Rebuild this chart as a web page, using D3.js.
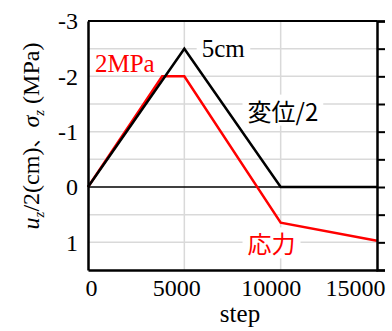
<!DOCTYPE html>
<html>
<head>
<meta charset="utf-8">
<script src="https://cdn.jsdelivr.net/npm/d3@7"></script>
<style>
  body { margin: 0; background: #fff; }
  svg text { font-family: "Liberation Serif", "DejaVu Serif", serif; }
  .jp { font-family: "Noto Sans CJK JP", sans-serif; }
</style>
</head>
<body>
<div id="chart"></div>
<script>
// displacement / 2 (cm)
const dispSteps = [0, 5000, 10000, 15000];
const dispValues = [0, -2.5, 0, 0];
// stress (MPa)
const stressSteps = [0, 3850, 5000, 10000, 15000];
const stressValues = [0, -2, -2, 0.645, 0.97];

const xTicks = [0, 5000, 10000, 15000];
const yTicks = [-3, -2, -1, 0, 1];
const yGrid = [-2.5, -2, -1.5, -1, -0.5, 0.5, 1];

const labels = [
  {text: "5cm", x: 5900, y: -2.35, color: "#000", jp: false},
  {text: "2MPa", x: 360, y: -2.08, color: "#f00", jp: false},
  {text: "変位/2", x: 8280, y: -1.2, color: "#000", jp: true},
  {text: "応力", x: 8280, y: 1.2, color: "#f00", jp: true}
];

const width = 392, height = 331;
const margin = {top: 21, right: 15, bottom: 61, left: 88};

const svg = d3.select("#chart").append("svg")
  .attr("width", width)
  .attr("height", height);

const x = d3.scaleLinear().domain([0, 15000]).range([margin.left, width - margin.right]);
const y = d3.scaleLinear().domain([-3, 1.5]).range([margin.top, height - margin.bottom]);

// grid
svg.append("g")
  .selectAll("line")
  .data(yGrid)
  .enter().append("line")
  .attr("x1", x(0)).attr("x2", x(15000))
  .attr("y1", d => y(d)).attr("y2", d => y(d))
  .attr("stroke", "#d9d9d9").attr("stroke-width", 1.5);

svg.append("g")
  .selectAll("line")
  .data([5000, 10000])
  .enter().append("line")
  .attr("x1", d => x(d)).attr("x2", d => x(d))
  .attr("y1", y(-3)).attr("y2", y(1.5))
  .attr("stroke", "#d9d9d9").attr("stroke-width", 1.5);

// zero line
svg.append("line")
  .attr("x1", x(0)).attr("x2", x(15000))
  .attr("y1", y(0)).attr("y2", y(0))
  .attr("stroke", "#000").attr("stroke-width", 1.5);

// label backgrounds + labels
const lab = svg.append("g").selectAll("g")
  .data(labels)
  .enter().append("g");

lab.append("text")
  .attr("class", d => d.jp ? "jp" : null)
  .attr("x", d => x(d.x))
  .attr("y", d => y(d.y))
  .attr("fill", d => d.color)
  .style("font-size", d => d.jp ? "24px" : "25px")
  .text(d => d.text);

lab.each(function() {
  const g = d3.select(this);
  const bb = g.select("text").node().getBBox();
  g.insert("rect", "text")
    .attr("x", bb.x - 5).attr("y", bb.y + 2)
    .attr("width", bb.width + 10).attr("height", bb.height - 4)
    .attr("fill", "#fff");
});

const line = d3.line().x(d => x(d[0])).y(d => y(d[1]));

svg.append("path")
  .datum(stressSteps.map((s, i) => [s, stressValues[i]]))
  .attr("d", line)
  .attr("fill", "none").attr("stroke", "#f00").attr("stroke-width", 2.5);

svg.append("path")
  .datum(dispSteps.map((s, i) => [s, dispValues[i]]))
  .attr("d", line)
  .attr("fill", "none").attr("stroke", "#000").attr("stroke-width", 2.5);

// axes
const fmt = d => String(d);
const xShift = {0: 3, 5000: -8, 10000: -10, 15000: -22};

svg.append("g")
  .attr("transform", `translate(0, ${y(1.5)})`)
  .call(d3.axisBottom(x).tickValues(xTicks).tickSize(0).tickPadding(9).tickFormat(fmt))
  .call(g => g.select(".domain").attr("stroke-width", 2.5))
  .call(g => g.selectAll("text")
    .attr("dx", d => xShift[d])
    .style("font-size", "24px").attr("font-family", null).attr("fill", "#000"));

svg.append("g")
  .attr("transform", `translate(${x(0)}, 0)`)
  .call(d3.axisLeft(y).tickValues(yTicks).tickSize(0).tickPadding(10).tickFormat(fmt))
  .call(g => g.select(".domain").attr("stroke-width", 2.5))
  .call(g => g.selectAll("text").style("font-size", "24px").attr("font-family", null).attr("fill", "#000"));

svg.append("g")
  .attr("transform", `translate(${x(15000)}, 0)`)
  .call(d3.axisRight(y).tickValues(d3.range(-3, 1.51, 0.5)).tickSize(8).tickFormat(""))
  .call(g => g.select(".domain").attr("stroke-width", 2.5))
  .call(g => g.selectAll(".tick line").attr("stroke-width", 2));

// top border
svg.append("line")
  .attr("x1", x(0)).attr("x2", x(15000))
  .attr("y1", y(-3)).attr("y2", y(-3))
  .attr("stroke", "#000").attr("stroke-width", 2);

// axis titles
svg.append("text")
  .attr("x", 240)
  .attr("y", 322)
  .attr("text-anchor", "middle")
  .style("font-size", "25px")
  .text("step");

const yt = svg.append("text")
  .attr("transform", `translate(39, 136) rotate(-90)`)
  .attr("text-anchor", "middle")
  .style("font-size", "24px");
yt.append("tspan").attr("font-style", "italic").text("u");
yt.append("tspan").attr("dy", 5).attr("font-style", "italic").style("font-size", "15px").text("z");
yt.append("tspan").attr("dy", -5).text("/2(cm)");
yt.append("tspan").attr("class", "jp").style("font-size", "20px").text("、");
yt.append("tspan").attr("font-style", "italic").text("σ");
yt.append("tspan").attr("dy", 5).attr("font-style", "italic").style("font-size", "15px").text("z");
yt.append("tspan").attr("dy", -5).text(" (MPa)");
</script>
</body>
</html>
